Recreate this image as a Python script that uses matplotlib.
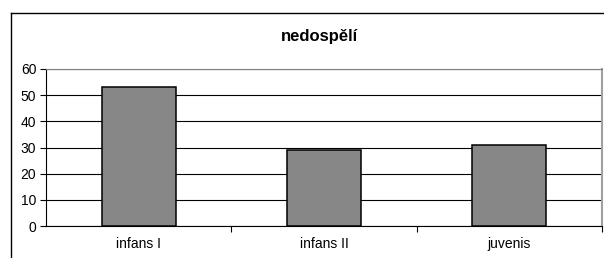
import matplotlib
matplotlib.use("Agg")
import matplotlib.pyplot as plt
from matplotlib.lines import Line2D

categories = ["infans I", "infans II", "juvenis"]
values = [53, 29, 31]
yticks = [0, 10, 20, 30, 40, 50, 60]
title = "nedospělí"

plt.rcParams['font.family'] = ['Liberation Sans', 'DejaVu Sans']

W, H = 604, 258
fig = plt.figure(figsize=(W/100, H/100), dpi=100)
ax = fig.add_axes([46/W, 1-226/H, (602-46)/W, (226-69)/H])

x = list(range(len(categories)))
ax.bar(x, values, width=0.4, color="#878787", edgecolor="black", linewidth=1.1, zorder=3)
ax.set_xlim(-0.5, len(categories)-0.5)
ax.set_ylim(0, 60)
ax.set_yticks(yticks)
ax.yaxis.grid(True, color="black", linewidth=0.8, zorder=0)
ax.set_axisbelow(True)

ax.set_xticks([i + 0.5 for i in range(len(categories)-1)] + [len(categories)-0.5])
ax.set_xticklabels([])
ax.set_xticks(x, minor=True)
ax.set_xticklabels(categories, minor=True)
ax.tick_params(axis='x', which='major', direction='out', length=4, width=0.8, color='black')
ax.tick_params(axis='x', which='minor', length=0, pad=8, labelsize=10)
ax.tick_params(axis='y', direction='out', length=4, width=0.8, labelsize=10, pad=3)

for s in ['left', 'bottom']:
    ax.spines[s].set_color('black')
    ax.spines[s].set_linewidth(0.8)
ax.spines['top'].set_color('#808080')
ax.spines['right'].set_color('#a0a0a0')
ax.spines['right'].set_linewidth(1.5)

fig.text(319/W, 1-37/H, title, ha='center', va='center', fontsize=12, fontweight='bold')

fx = 11/W
fy = 1-12.5/H
fig.add_artist(Line2D([fx, fx], [0, fy], transform=fig.transFigure, color='black', linewidth=1.0))
fig.add_artist(Line2D([fx, 1], [fy, fy], transform=fig.transFigure, color='black', linewidth=1.0))

fig.savefig("out.png", dpi=100)
